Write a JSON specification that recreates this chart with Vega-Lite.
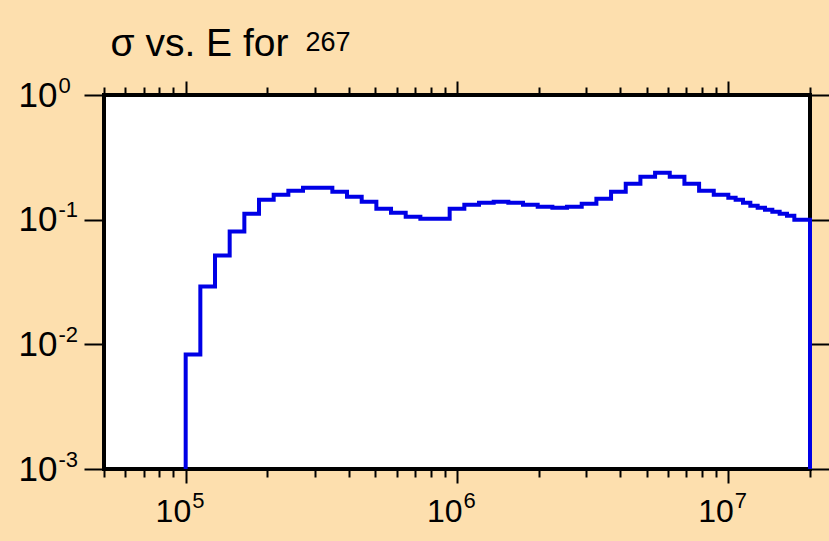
{
  "$schema": "https://vega.github.io/schema/vega-lite/v6.json",
  "width": 706,
  "height": 374,
  "autosize": {"type": "none"},
  "padding": {"left": 104, "top": 95, "right": 19, "bottom": 72},
  "background": "#FDDFAE",
  "config": {
    "view": {"fill": "white", "stroke": "black", "strokeWidth": 4},
    "font": "Liberation Sans",
    "axis": {"domain": false, "grid": false, "tickColor": "black", "tickWidth": 2, "labelColor": "black", "labelFont": "Liberation Sans", "titleFont": "Liberation Sans", "titleColor": "black", "titleFontWeight": "normal", "labelOverlap": false, "labelFlush": false}
  },
  "data": {
    "values": [
      {"i": 0, "e": 100000, "s": 0.001},
      {"i": 1, "e": 100000, "s": 0.0083},
      {"i": 2, "e": 113254, "s": 0.0291},
      {"i": 3, "e": 128265, "s": 0.0515},
      {"i": 4, "e": 145270, "s": 0.0802},
      {"i": 5, "e": 164530, "s": 0.1117},
      {"i": 6, "e": 186340, "s": 0.1445},
      {"i": 7, "e": 211040, "s": 0.1585},
      {"i": 8, "e": 239010, "s": 0.1706},
      {"i": 9, "e": 270700, "s": 0.1803},
      {"i": 10, "e": 306580, "s": 0.1803},
      {"i": 11, "e": 347220, "s": 0.1675},
      {"i": 12, "e": 393250, "s": 0.1528},
      {"i": 13, "e": 445380, "s": 0.1393},
      {"i": 14, "e": 504420, "s": 0.1225},
      {"i": 15, "e": 571280, "s": 0.1138},
      {"i": 16, "e": 647010, "s": 0.1057},
      {"i": 17, "e": 732770, "s": 0.1019},
      {"i": 18, "e": 829900, "s": 0.1019},
      {"i": 19, "e": 939690, "s": 0.1225},
      {"i": 20, "e": 1064200, "s": 0.1318},
      {"i": 21, "e": 1205400, "s": 0.1368},
      {"i": 22, "e": 1365200, "s": 0.1393},
      {"i": 23, "e": 1546200, "s": 0.1368},
      {"i": 24, "e": 1751300, "s": 0.1318},
      {"i": 25, "e": 1983500, "s": 0.127},
      {"i": 26, "e": 2246500, "s": 0.1247},
      {"i": 27, "e": 2544300, "s": 0.127},
      {"i": 28, "e": 2881700, "s": 0.1343},
      {"i": 29, "e": 3263800, "s": 0.1472},
      {"i": 30, "e": 3696600, "s": 0.1675},
      {"i": 31, "e": 4186800, "s": 0.1941},
      {"i": 32, "e": 4742000, "s": 0.2208},
      {"i": 33, "e": 5370800, "s": 0.2377},
      {"i": 34, "e": 6083000, "s": 0.2208},
      {"i": 35, "e": 6889600, "s": 0.1941},
      {"i": 36, "e": 7803100, "s": 0.1706},
      {"i": 37, "e": 8837800, "s": 0.1585},
      {"i": 38, "e": 10000000, "s": 0.15},
      {"i": 39, "e": 10640000, "s": 0.1445},
      {"i": 40, "e": 11326000, "s": 0.1368},
      {"i": 41, "e": 12054000, "s": 0.1294},
      {"i": 42, "e": 12828000, "s": 0.1247},
      {"i": 43, "e": 13650000, "s": 0.1202},
      {"i": 44, "e": 14527000, "s": 0.1159},
      {"i": 45, "e": 15460000, "s": 0.1117},
      {"i": 46, "e": 16453000, "s": 0.1076},
      {"i": 47, "e": 17510000, "s": 0.1},
      {"i": 48, "e": 20000000, "s": 0.1},
      {"i": 49, "e": 20000000, "s": 0.001}
    ]
  },
  "resolve": {"axis": {"x": "independent", "y": "independent"}},
  "layer": [
    {
      "mark": {"type": "line", "interpolate": "step-after", "color": "#0000E6", "strokeWidth": 4},
      "encoding": {
        "x": {"field": "e", "type": "quantitative", "scale": {"type": "log", "domain": [50000, 20000000], "nice": false},
          "axis": {"orient": "bottom", "values": [100000, 1000000, 10000000], "tickSize": 14, "labelExpr": "'10'", "labelFontSize": 32, "labelAlign": "right", "labelOffset": 5, "labelPadding": 13, "title": null}},
        "y": {"field": "s", "type": "quantitative", "scale": {"type": "log", "domain": [0.001, 1], "nice": false},
          "axis": {"orient": "left", "values": [1, 0.1, 0.01, 0.001], "tickSize": 20, "labelExpr": "'10'", "labelFontSize": 35, "labelAlign": "right", "labelBaseline": "middle", "labelPadding": 27, "title": null}},
        "order": {"field": "i"}
      }
    },
    {
      "mark": {"type": "line", "interpolate": "step-after", "opacity": 0},
      "encoding": {
        "x": {"field": "e", "type": "quantitative", "scale": {"type": "log", "domain": [50000, 20000000], "nice": false},
          "axis": {"orient": "bottom", "values": [50000, 60000, 70000, 80000, 90000, 200000, 300000, 400000, 500000, 600000, 700000, 800000, 900000, 2000000, 3000000, 4000000, 5000000, 6000000, 7000000, 8000000, 9000000, 20000000], "tickSize": 8, "labels": false, "title": null}},
        "y": {"field": "s", "type": "quantitative", "scale": {"type": "log", "domain": [0.001, 1], "nice": false},
          "axis": {"orient": "left", "values": [1, 0.1, 0.01, 0.001], "tickSize": 0, "tickOpacity": 0, "labelExpr": "'' + round(log(datum.value) / LN10)", "labelFontSize": 22, "labelAlign": "left", "labelBaseline": "middle", "labelPadding": 46, "labelOffset": -10, "title": null}},
        "order": {"field": "i"}
      }
    },
    {
      "mark": {"type": "line", "interpolate": "step-after", "opacity": 0},
      "encoding": {
        "x": {"field": "e", "type": "quantitative", "scale": {"type": "log", "domain": [50000, 20000000], "nice": false},
          "axis": {"orient": "bottom", "values": [100000, 1000000, 10000000], "tickSize": 0, "tickOpacity": 0, "labelExpr": "'' + round(log(datum.value) / LN10)", "labelFontSize": 22, "labelAlign": "left", "labelOffset": 6, "labelPadding": 21, "title": null}},
        "y": {"field": "s", "type": "quantitative", "scale": {"type": "log", "domain": [0.001, 1], "nice": false},
          "axis": {"orient": "right", "values": [1, 0.1, 0.01, 0.001], "tickSize": 19, "labels": false, "title": null}},
        "order": {"field": "i"}
      }
    },
    {
      "mark": {"type": "line", "interpolate": "step-after", "opacity": 0},
      "encoding": {
        "x": {"field": "e", "type": "quantitative", "scale": {"type": "log", "domain": [50000, 20000000], "nice": false},
          "axis": {"orient": "top", "values": [100000, 1000000, 10000000], "tickSize": 14, "labels": false, "title": "σ vs. E for", "titleFontSize": 39, "titleAlign": "left", "titleBaseline": "alphabetic", "titleX": 6, "titleY": -40}},
        "y": {"field": "s", "type": "quantitative", "scale": {"type": "log", "domain": [0.001, 1], "nice": false}, "axis": null},
        "order": {"field": "i"}
      }
    },
    {
      "mark": {"type": "line", "interpolate": "step-after", "opacity": 0},
      "encoding": {
        "x": {"field": "e", "type": "quantitative", "scale": {"type": "log", "domain": [50000, 20000000], "nice": false},
          "axis": {"orient": "top", "values": [50000, 60000, 70000, 80000, 90000, 200000, 300000, 400000, 500000, 600000, 700000, 800000, 900000, 2000000, 3000000, 4000000, 5000000, 6000000, 7000000, 8000000, 9000000, 20000000], "tickSize": 8, "labels": false, "title": "267", "titleFontSize": 27, "titleAlign": "left", "titleBaseline": "alphabetic", "titleX": 201, "titleY": -45}},
        "y": {"field": "s", "type": "quantitative", "scale": {"type": "log", "domain": [0.001, 1], "nice": false}, "axis": null},
        "order": {"field": "i"}
      }
    }
  ]
}
